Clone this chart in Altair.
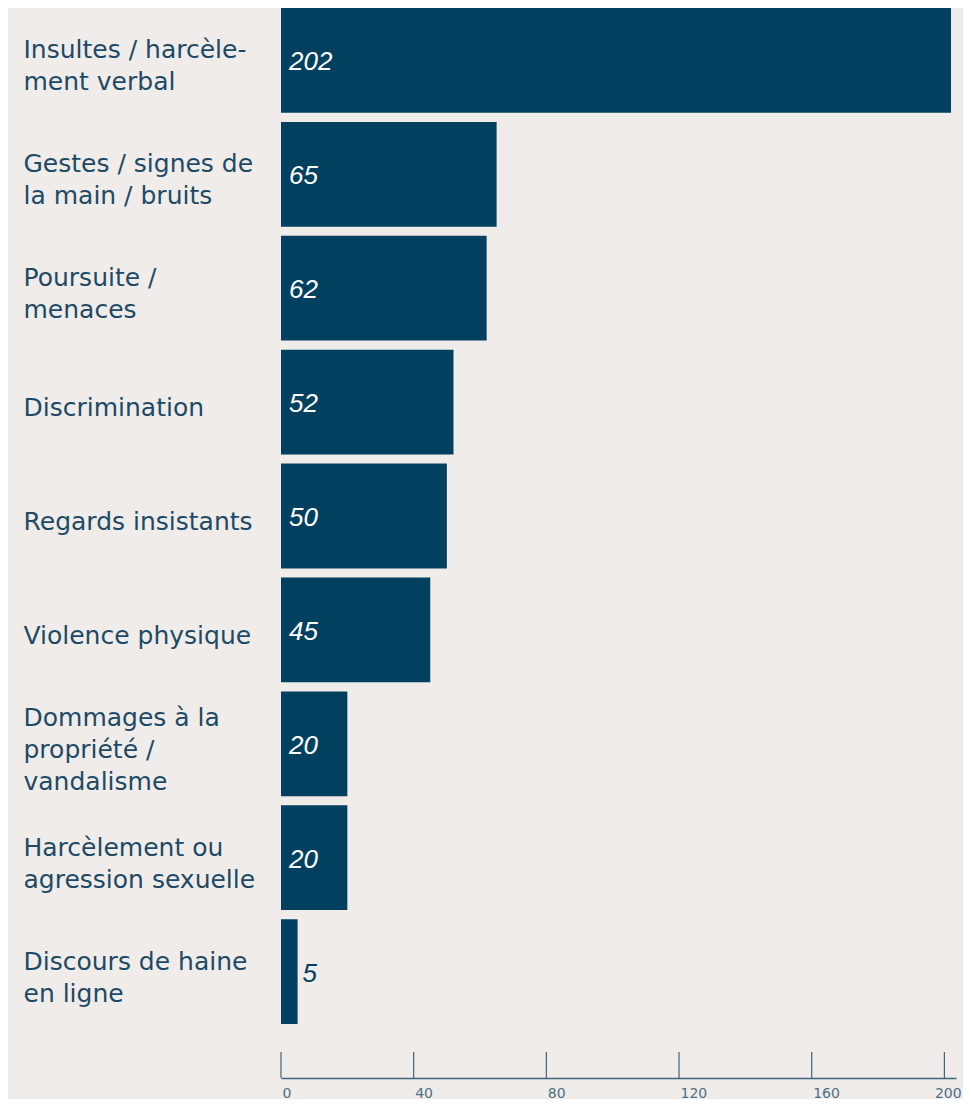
import altair as alt
import pandas as pd

categories = [
    "Insultes / harcèle-|ment verbal",
    "Gestes / signes de|la main / bruits",
    "Poursuite /|menaces",
    "Discrimination",
    "Regards insistants",
    "Violence physique",
    "Dommages à la|propriété /|vandalisme",
    "Harcèlement ou|agression sexuelle",
    "Discours de haine|en ligne",
]
values = [202, 65, 62, 52, 50, 45, 20, 20, 5]
ticks = [0, 40, 80, 120, 160, 200]

df = pd.DataFrame({"cat": categories, "value": values})
tick_df = pd.DataFrame({"t": ticks})

W, H = 675, 1016
BG = "#f0ece9"
BAR = "#01405f"
TXT = "#1d4a66"
LFONT = "DejaVu Sans"

xscale = alt.Scale(domain=[0, 203.5], nice=False, zero=True)
yenc = alt.Y("cat:N", sort=categories, title=None,
             scale=alt.Scale(paddingInner=0.08, paddingOuter=0.0),
             axis=alt.Axis(labelExpr="split(datum.label, '|')", labelAlign="left",
                           labelPadding=258, ticks=False, domain=False,
                           labelFont=LFONT, labelFontSize=25, labelColor=TXT,
                           labelLineHeight=32, labelBaseline="middle", labelLimit=300,
                           labelOffset={"expr": "6 - (length(split(datum.label, '|')) - 1) * 16"}))

bars = alt.Chart(df).mark_bar(color=BAR).encode(
    x=alt.X("value:Q", scale=xscale, title=None,
            axis=alt.Axis(values=ticks, offset=54, tickSize=0, domainColor="#3e6580",
                          domainWidth=1.5, labelAlign="left", labelFont=LFONT,
                          labelFontSize=14, labelColor="#4d6f86", labelPadding=8,
                          grid=False, labelFlush=False,
                          labelOffset={"expr": "datum.value == 200 ? -10 : 1"})),
    y=yenc,
)

inside = alt.Chart(df).transform_filter("datum.value >= 10").mark_text(
    align="left", baseline="middle", dx=8, dy=2, font="Liberation Sans", fontStyle="italic",
    fontSize=26, color="white").encode(
    x=alt.X("zero:Q", scale=xscale), y=alt.Y("cat:N", sort=categories),
    text="value:Q").transform_calculate(zero="0")

outside = alt.Chart(df).transform_filter("datum.value < 10").mark_text(
    align="left", baseline="middle", dx=5, dy=2, font="Liberation Sans", fontStyle="italic",
    fontSize=26, color=BAR).encode(
    x=alt.X("value:Q", scale=xscale), y=alt.Y("cat:N", sort=categories),
    text="value:Q")

tick_rules = alt.Chart(tick_df).mark_rule(color="#3e6580", strokeWidth=1.2).encode(
    x=alt.X("t:Q", scale=xscale),
    y=alt.value(H + 28), y2=alt.value(H + 54))

chart = alt.layer(bars, inside, outside, tick_rules).properties(
    width=W, height=H, background=BG,
    autosize=alt.AutoSizeParams(type="none"),
    padding={"left": 273, "top": 0, "right": 7, "bottom": 75},
).configure_view(stroke=None)

chart.save("out.html", embed_options={"renderer": "svg", "actions": False})
